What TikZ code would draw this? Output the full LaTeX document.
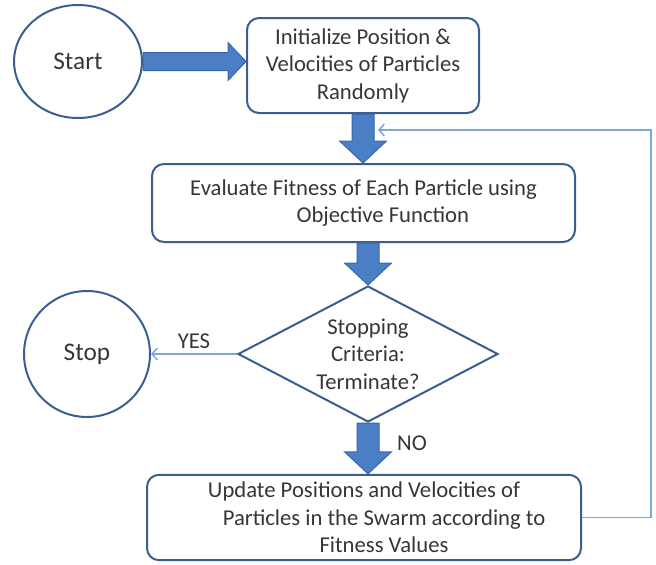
\documentclass[tikz,border=0pt]{standalone}
\usepackage{fontspec}
\setmainfont{Carlito}
\usetikzlibrary{shapes.geometric}
\usetikzlibrary{arrows.meta}
\usetikzlibrary{calc}
\definecolor{boxline}{HTML}{3B5E91}
\definecolor{arrowfill}{HTML}{4A7EC5}
\definecolor{arrowline}{HTML}{3A67A6}
\definecolor{loopblue}{HTML}{7EA6DA}
\definecolor{textgray}{HTML}{363636}
\tikzset{x=0.75pt, y=-0.75pt,
every node/.style={
text=textgray,
font=\fontsize{17}{20.6}\selectfont},
terminal/.style={
ellipse,
draw=boxline,
line width=1.5pt,
font=\fontsize{19}{23}\selectfont},
procbox/.style={
rectangle,
rounded corners=9pt,
draw=boxline,
line width=1.5pt,
align=center,
inner sep=0pt},
decision/.style={
diamond,
aspect=1.9,
draw=boxline,
line width=1.5pt,
align=center,
inner sep=0pt,
minimum width=195pt,
minimum height=102pt},
blockarrow/.style={
fill=arrowfill,
draw=arrowline,
line width=0.75pt},
loopline/.style={
draw=loopblue,
line width=1.1pt,
->,
>={Straight Barb[length=4pt,width=9pt]}}}
% fat block arrows, given start and tip point
\newcommand{\fatdown}[2]{\path[blockarrow] let \p1=#1, \p2=#2 in
(\x1-8.25pt,\y1) -- (\x1+8.25pt,\y1) -- (\x1+8.25pt,\y2+16.5pt) -- (\x1+17.6pt,\y2+16.5pt)
-- (\x2,\y2) -- (\x1-17.6pt,\y2+16.5pt) -- (\x1-8.25pt,\y2+16.5pt) -- cycle;}
\newcommand{\fatright}[2]{\path[blockarrow] let \p1=#1, \p2=#2 in
(\x1,\y1-6.75pt) -- (\x2-13.5pt,\y1-6.75pt) -- (\x2-13.5pt,\y1-14.25pt) -- (\x2,\y1)
-- (\x2-13.5pt,\y1+14.25pt) -- (\x2-13.5pt,\y1+6.75pt) -- (\x1,\y1+6.75pt) -- cycle;}

\begin{document}
\begin{tikzpicture}
\useasboundingbox (0,0) rectangle (656,564);
\node[terminal, minimum width=96pt, minimum height=84.75pt] (start) at (78,61.5) {Start};
\node[procbox, minimum width=174pt, minimum height=71.25pt] (init) at (363,65.5)
  {Initialize Position \&\\Velocities of Particles\\Randomly};
\node[procbox, minimum width=317.25pt, minimum height=58.5pt] (eval) at (363.5,203)
  {Evaluate Fitness of Each Particle using\\\hspace*{29pt}Objective Function};
\node[decision] (crit) at (368,354) {Stopping\\Criteria:\\Terminate?};
\node[terminal, circle, minimum size=94.5pt] (stop) at (87,354) {Stop};
\node[procbox, minimum width=325.5pt, minimum height=64pt] (update) at (364,517.5)
  {Update Positions and Velocities of\\\hspace*{30pt}Particles in the Swarm according to\\\hspace*{30pt}Fitness Values};
\coordinate (back) at (651,130);
\coordinate (backend) at (378,130);

\fatright{(start.east)}{(start.east -| init.west)}
\fatdown{(init.south)}{(init.south |- eval.north)}
\fatdown{(crit.north |- eval.south)}{(crit.north)}
\fatdown{(crit.south)}{(crit.south |- update.north)}

\draw[loopline] (crit.west) -- node[above] (yes) {YES} (stop.east);
\node (no) at (412,443) {NO};
\draw[loopline] (update.east) -| (back) -- (backend);
\end{tikzpicture}
\end{document}
